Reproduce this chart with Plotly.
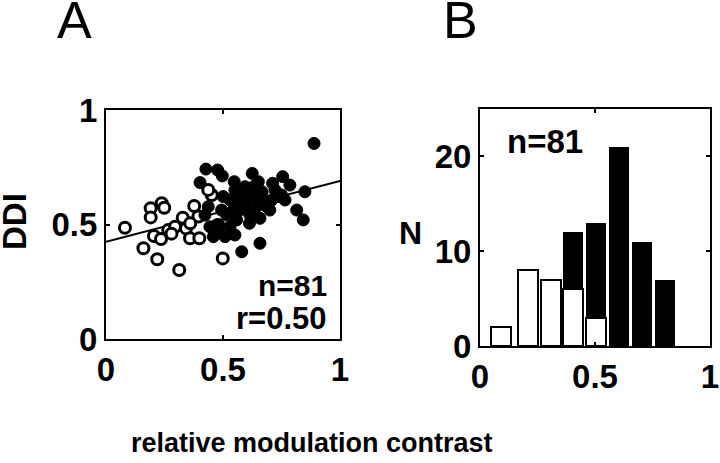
import plotly.graph_objects as go

W, H = 720, 463

# ---- Panel A data: open (low contrast) and filled (high contrast) cells ----
open_x = [0.081, 0.191, 0.238, 0.249, 0.191, 0.160, 0.219, 0.205, 0.235, 0.266,
          0.295, 0.328, 0.342, 0.359, 0.313, 0.377, 0.399, 0.452, 0.437, 0.499,
          0.480, 0.280, 0.395, 0.360]
open_y = [0.486, 0.571, 0.593, 0.573, 0.531, 0.396, 0.348, 0.450, 0.437, 0.476,
          0.490, 0.530, 0.483, 0.440, 0.301, 0.581, 0.440, 0.629, 0.651, 0.352,
          0.498, 0.460, 0.535, 0.505]

filled_x = [0.889, 0.427, 0.477, 0.497, 0.402, 0.548, 0.625, 0.594, 0.712, 0.755,
            0.786, 0.850, 0.815, 0.843, 0.765, 0.722, 0.658, 0.613, 0.580, 0.658,
            0.551, 0.509, 0.459, 0.473, 0.423, 0.437, 0.501, 0.558, 0.601, 0.644,
            0.667, 0.573, 0.630, 0.687, 0.516, 0.558, 0.530, 0.480, 0.601, 0.708,
            0.735, 0.644, 0.587, 0.544, 0.615, 0.444, 0.672, 0.700, 0.580, 0.630,
            0.494, 0.530, 0.651, 0.551, 0.750]
filled_y = [0.854, 0.742, 0.738, 0.712, 0.683, 0.687, 0.723, 0.665, 0.680, 0.709,
            0.672, 0.643, 0.563, 0.520, 0.607, 0.651, 0.527, 0.505, 0.381, 0.418,
            0.454, 0.447, 0.447, 0.498, 0.541, 0.578, 0.622, 0.607, 0.607, 0.622,
            0.643, 0.563, 0.563, 0.578, 0.541, 0.520, 0.490, 0.469, 0.636, 0.607,
            0.622, 0.578, 0.578, 0.563, 0.541, 0.490, 0.607, 0.563, 0.643, 0.665,
            0.563, 0.607, 0.687, 0.651, 0.629]

fit_x = [0.0, 1.0]
fit_y = [0.425, 0.690]

# ---- Panel B data: histogram ----
bin_centers = [0.09, 0.21, 0.31, 0.405, 0.505, 0.605, 0.705, 0.805]
total_counts = [2, 8, 7, 12, 13, 21, 11, 7]
open_counts = [2, 8, 7, 6, 3, 0, 0, 0]

FONT = "Liberation Sans"

fig = go.Figure()

# Panel A
fig.add_trace(go.Scatter(x=fit_x, y=fit_y, mode="lines",
                         line=dict(color="black", width=2),
                         xaxis="x", yaxis="y", showlegend=False, cliponaxis=True))
fig.add_trace(go.Scatter(x=open_x, y=open_y, mode="markers",
                         marker=dict(size=11, color="white", symbol="circle",
                                     line=dict(color="black", width=3)),
                         xaxis="x", yaxis="y", showlegend=False))
fig.add_trace(go.Scatter(x=filled_x, y=filled_y, mode="markers",
                         marker=dict(size=12, color="black", symbol="circle",
                                     line=dict(color="black", width=1)),
                         xaxis="x", yaxis="y", showlegend=False))

# Panel B
fig.add_trace(go.Bar(x=bin_centers, y=total_counts, width=0.086,
                     marker=dict(color="black", line=dict(color="black", width=0)),
                     xaxis="x2", yaxis="y2", showlegend=False))
fig.add_trace(go.Bar(x=bin_centers, y=open_counts, width=0.086,
                     marker=dict(color="white", line=dict(color="black", width=2)),
                     xaxis="x2", yaxis="y2", showlegend=False))

tickfont = dict(family=FONT, size=33, color="black", weight="bold")
common = dict(showline=True, linecolor="black", linewidth=2, mirror="allticks",
              ticks="inside", ticklen=4, tickwidth=1.5, tickcolor="black",
              showgrid=False, zeroline=False, tickfont=tickfont, automargin=False)

fig.update_layout(
    width=W, height=H, margin=dict(l=0, r=0, t=0, b=0, pad=0, autoexpand=False),
    paper_bgcolor="white", plot_bgcolor="white",
    barmode="overlay", bargap=0,
    xaxis=dict(domain=[106 / W, 340 / W], range=[0, 1], tickvals=[0, 0.5, 1],
               ticktext=["0", "0.5", "1"], anchor="y", **common),
    yaxis=dict(domain=[1 - 339 / H, 1 - 110 / H], range=[0, 1], tickvals=[0, 0.5, 1],
               ticktext=["0", "0.5", "1"], anchor="x", **common),
    xaxis2=dict(domain=[480 / W, 710 / W], range=[0, 1], tickvals=[0, 0.5, 1],
                ticktext=["0", "0.5", "1"], anchor="y2", **common),
    yaxis2=dict(domain=[1 - 346 / H, 1 - 109 / H], range=[0, 25], tickvals=[0, 10, 20],
                ticktext=["0", "10", "20"], anchor="x2", **common),
)

def ann(text, x, y, size, bold=True, angle=0, xanchor="center", yanchor="middle"):
    fig.add_annotation(text=text, x=x / W, y=1 - y / H, xref="paper", yref="paper",
                       showarrow=False, textangle=angle, xanchor=xanchor, yanchor=yanchor,
                       font=dict(family=FONT, size=size, color="black",
                                 weight="bold" if bold else "normal"))

ann("A", 74, 20, 52, bold=False)
ann("B", 461, 20, 52, bold=False)
ann("DDI", 15, 222, 33, angle=-90)
ann("N", 410, 233, 32)
ann("relative modulation contrast", 312, 443, 27)
ann("n=81", 329, 285, 30, xanchor="right")
ann("r=0.50", 329, 318, 31, xanchor="right")
ann("n=81", 505, 141, 33, xanchor="left")

fig.write_html("out.html", config={"displayModeBar": False},
               post_script="document.body.style.margin='0';")
